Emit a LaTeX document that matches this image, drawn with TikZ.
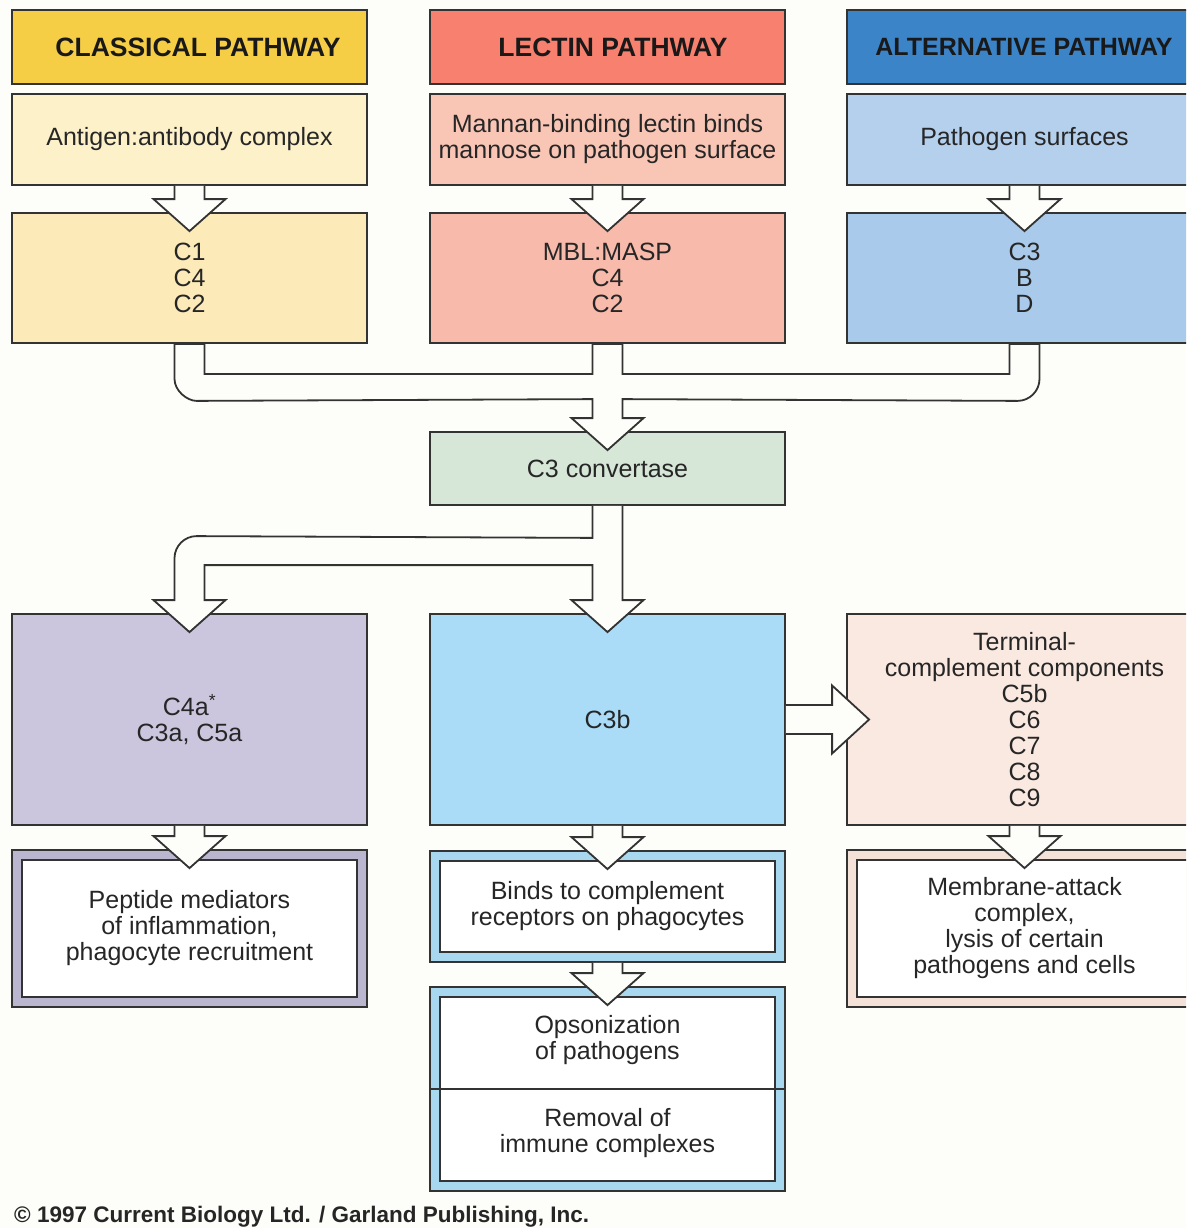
\documentclass[tikz,border=0pt]{standalone}
\usepackage{fontspec}
\setmainfont{Liberation Sans}
\usetikzlibrary{calc}
\definecolor{bg}{HTML}{FDFDF9}
\definecolor{edge}{HTML}{333333}
\definecolor{hdrA}{HTML}{F6CE45}
\definecolor{hdrB}{HTML}{F7806E}
\definecolor{hdrC}{HTML}{3C84C8}
\definecolor{boxAb}{HTML}{FDF1CA}
\definecolor{boxBb}{HTML}{F9C6B6}
\definecolor{boxCb}{HTML}{B4D0EC}
\definecolor{boxAc}{HTML}{FCEBB8}
\definecolor{boxBc}{HTML}{F8BAAA}
\definecolor{boxCc}{HTML}{AACAEB}
\definecolor{convcol}{HTML}{D6E7D8}
\definecolor{purp}{HTML}{CBC5DD}
\definecolor{cbcol}{HTML}{AADBF7}
\definecolor{termcol}{HTML}{FAE9E1}
\definecolor{bandA}{HTML}{BAB6CF}
\definecolor{bandB}{HTML}{A8D7F0}
\definecolor{bandC}{HTML}{F4E2D9}
\newcommand\dgbody{\fontsize{25}{26}\selectfont}
\newcommand\dghead{\fontsize{26.5}{28}\selectfont\bfseries}
\newcommand\vblockarrow[2]{%
  \draw[blockarrow] ($(#1.south)+(-15,0)$) -- ($(#2.north)+(-15,-13)$) -- ($(#2.north)+(-36,-13)$)
    -- ($(#2.north)+(0,19)$) -- ($(#2.north)+(36,-13)$) -- ($(#2.north)+(15,-13)$) -- ($(#1.south)+(15,0)$);}
\begin{document}
\begin{tikzpicture}[x=1pt,y=-1pt,
  box/.style={draw=edge, line width=1.8pt, minimum width=355pt, minimum height=#1, inner sep=1pt, align=center, font=\dgbody, text=black!85},
  hbox/.style={draw=edge, line width=1.8pt, minimum width=355pt, minimum height=74pt, inner sep=1pt},
  htxt/.style={inner sep=0pt, font=\dghead, text=black!90},
  inbox/.style={draw=edge, line width=1.8pt, fill=white, minimum width=335pt, minimum height=#1, inner sep=1pt, align=center, font=\dgbody, text=black!85},
  txt/.style={align=center, font=\dgbody, text=black!85, inner sep=0pt},
  blockarrow/.style={draw=edge, fill=bg, line width=1.8pt, line join=miter}]
\useasboundingbox (0,0) rectangle (1186,1228);
\clip (0,0) rectangle (1186,1228);
\fill[bg] (0,0) rectangle (1186,1228);

% headers
\node[hbox, fill=hdrA] (h1) at (189.5,47) {};
\node[hbox, fill=hdrB] (h2) at (607.5,47) {};
\node[hbox, fill=hdrC] (h3) at (1024.5,47) {};
\node[htxt] (h1t) at (198,47) {CLASSICAL PATHWAY};
\node[htxt] (h2t) at (613,47) {LECTIN PATHWAY};
\node[htxt, font=\fontsize{25}{27}\selectfont\bfseries] (h3t) at (1024,47) {ALTERNATIVE PATHWAY};

% triggers
\node[box=91pt, fill=boxAb] (t1) at (189.5,139.5) {Antigen:antibody complex};
\node[box=91pt, fill=boxBb] (t2) at (607.5,139.5) {Mannan-binding lectin binds\\mannose on pathogen surface};
\node[box=91pt, fill=boxCb] (t3) at (1024.5,139.5) {Pathogen surfaces};

% components
\node[box=130pt, fill=boxAc] (c1) at (189.5,278) {C1\\C4\\C2};
\node[box=130pt, fill=boxBc] (c2) at (607.5,278) {MBL:MASP\\C4\\C2};
\node[box=130pt, fill=boxCc] (c3) at (1024.5,278) {C3\\B\\D};

% convertase
\node[box=73pt, fill=convcol] (conv) at (607.5,468.5) {C3 convertase};

% products
\node[box=211pt, fill=purp] (pa) at (189.5,719.5) {C4a\textsuperscript{*}\\C3a, C5a};
\node[box=211pt, fill=cbcol] (cb) at (607.5,719.5) {C3b};
\node[box=211pt, fill=termcol] (term) at (1024.5,719.5) {Terminal-\\complement components\\C5b\\C6\\C7\\C8\\C9};

% outcome boxes
\node[box=157pt, fill=bandA] (pepo) at (189.5,928.5) {};
\node[inbox=137pt] (pep) at (189.5,928.5) {Peptide mediators\\of inflammation,\\phagocyte recruitment};
\node[box=111pt, fill=bandB] (bindo) at (607.5,906.5) {};
\node[inbox=91pt] (bind) at (607.5,906.5) {Binds to complement\\receptors on phagocytes};
\node[box=204pt, fill=bandB] (opso) at (607.5,1089) {};
\node[inbox=184pt] (opsi) at (607.5,1089) {};
\draw[edge, line width=1.8pt] (opso.west) -- (opso.east);
\node[txt] (ops) at (607.5,1040) {Opsonization\\of pathogens};
\node[txt] (rem) at (607.5,1133) {Removal of\\immune complexes};
\node[box=157pt, fill=bandC] (maco) at (1024.5,928.5) {};
\node[inbox=137pt] (mac) at (1024.5,928.5) {Membrane-attack\\complex,\\lysis of certain\\pathogens and cells};

% vertical block arrows
\vblockarrow{t1}{c1}
\vblockarrow{t2}{c2}
\vblockarrow{t3}{c3}
\vblockarrow{pa}{pepo}
\vblockarrow{cb}{bindo}
\vblockarrow{bindo}{opso}
\vblockarrow{term}{maco}

% merging arrow into C3 convertase
\draw[blockarrow]
  ($(c1.south)+(-15,0)$) -- ($(c1.south)+(-15,35)$)
  .. controls ($(c1.south)+(-15,47.1)$) and ($(c1.south)+(-2.1,57)$) .. ($(c1.south)+(7,57)$)
  -- ($(conv.north)+(-15,-32)$) -- ($(conv.north)+(-15,-13)$) -- ($(conv.north)+(-36,-13)$)
  -- ($(conv.north)+(0,19)$) -- ($(conv.north)+(36,-13)$) -- ($(conv.north)+(15,-13)$)
  -- ($(conv.north)+(15,-32)$) -- ($(c3.south)+(-7,57)$)
  .. controls ($(c3.south)+(5.1,57)$) and ($(c3.south)+(15,47.1)$) .. ($(c3.south)+(15,35)$)
  -- ($(c3.south)+(15,0)$) -- ($(c3.south)+(-15,0)$) -- ($(c3.south)+(-15,30)$)
  -- ($(c2.south)+(15,30)$) -- ($(c2.south)+(15,0)$) -- ($(c2.south)+(-15,0)$)
  -- ($(c2.south)+(-15,30)$) -- ($(c1.south)+(15,30)$) -- ($(c1.south)+(15,0)$) -- cycle;

% splitting arrow from C3 convertase
\draw[blockarrow]
  ($(conv.south)+(-15,0)$) -- ($(conv.south)+(-15,32)$)
  -- ($(pa.north)+(7,-77)$)
  .. controls ($(pa.north)+(-5.1,-77)$) and ($(pa.north)+(-15,-66.9)$) .. ($(pa.north)+(-15,-55)$)
  -- ($(pa.north)+(-15,-13)$) -- ($(pa.north)+(-36,-13)$) -- ($(pa.north)+(0,19)$)
  -- ($(pa.north)+(36,-13)$) -- ($(pa.north)+(15,-13)$) -- ($(pa.north)+(15,-48)$)
  -- ($(cb.north)+(-15,-48)$) -- ($(cb.north)+(-15,-13)$) -- ($(cb.north)+(-36,-13)$)
  -- ($(cb.north)+(0,19)$) -- ($(cb.north)+(36,-13)$) -- ($(cb.north)+(15,-13)$)
  -- ($(conv.south)+(15,0)$);

% right arrow C3b -> terminal components
\draw[blockarrow] ($(cb.east)+(0,-14.5)$) -- ($(term.west)+(-14,-14.5)$) -- ($(term.west)+(-14,-34)$)
  -- ($(term.west)+(23,0)$) -- ($(term.west)+(-14,34)$) -- ($(term.west)+(-14,14.5)$) -- ($(cb.east)+(0,14.5)$);

% copyright
\node[anchor=west, inner sep=0pt, font=\fontsize{22.5}{24}\selectfont\bfseries, text=black!85] (copy) at (14,1217) {© 1997 Current Biology Ltd. / Garland Publishing, Inc.};
\end{tikzpicture}
\end{document}
